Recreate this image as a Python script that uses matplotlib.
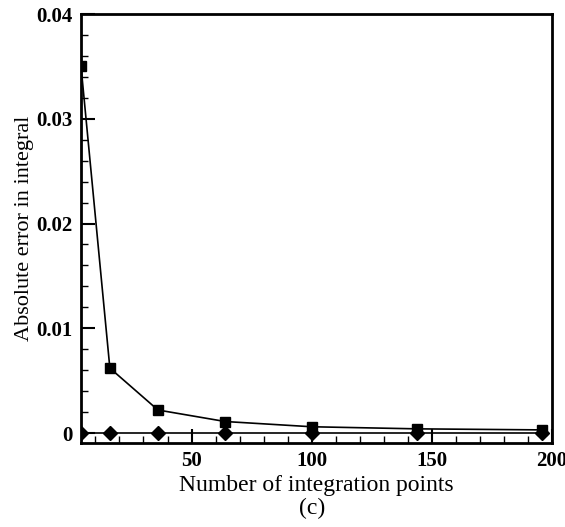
import matplotlib
matplotlib.use('Agg')
import matplotlib.pyplot as plt
from matplotlib.ticker import MultipleLocator

plt.rcParams['font.family'] = 'Liberation Serif'

# integration points and absolute errors
n_points = [4, 16, 36, 64, 100, 144, 196]
err_square = [0.035, 0.0062, 0.0022, 0.0011, 0.0006, 0.0004, 0.0003]
err_diamond = [0.00002, 0.00002, 0.00002, 0.00002, 0.00002, 0.00002, 0.00002]

fig = plt.figure(figsize=(5.65, 5.27), dpi=100)
ax = fig.add_axes([0.1434, 0.1594, 0.8336, 0.814])

ax.plot(n_points, err_square, color='black', marker='s', markersize=7, linewidth=1.2)
ax.plot(n_points, err_diamond, color='black', marker='D', markersize=7, linewidth=1.2)

ax.set_xlim(4, 200)
ax.set_ylim(-0.00095, 0.04)
ax.set_xticks([50, 100, 150, 200])
ax.set_yticks([0, 0.01, 0.02, 0.03, 0.04])
ax.set_yticklabels(['0', '0.01', '0.02', '0.03', '0.04'])
ax.xaxis.set_minor_locator(MultipleLocator(10))
ax.yaxis.set_minor_locator(MultipleLocator(0.002))

ax.tick_params(which='both', direction='in', top=False, right=False, width=1.5)
ax.tick_params(which='major', length=10, labelsize=15, pad=6)
ax.tick_params(which='minor', length=5, width=1.0)
for lab in ax.get_xticklabels() + ax.get_yticklabels():
    lab.set_fontweight('bold')
for sp in ax.spines.values():
    sp.set_linewidth(2)

ax.set_xlabel('Number of integration points', fontsize=17, labelpad=3)
ax.set_ylabel('Absolute error in integral', fontsize=16, labelpad=2)
fig.text(0.553, 0.036, '(c)', fontsize=17, ha='center', va='center')

fig.savefig('out.png', dpi=100)
